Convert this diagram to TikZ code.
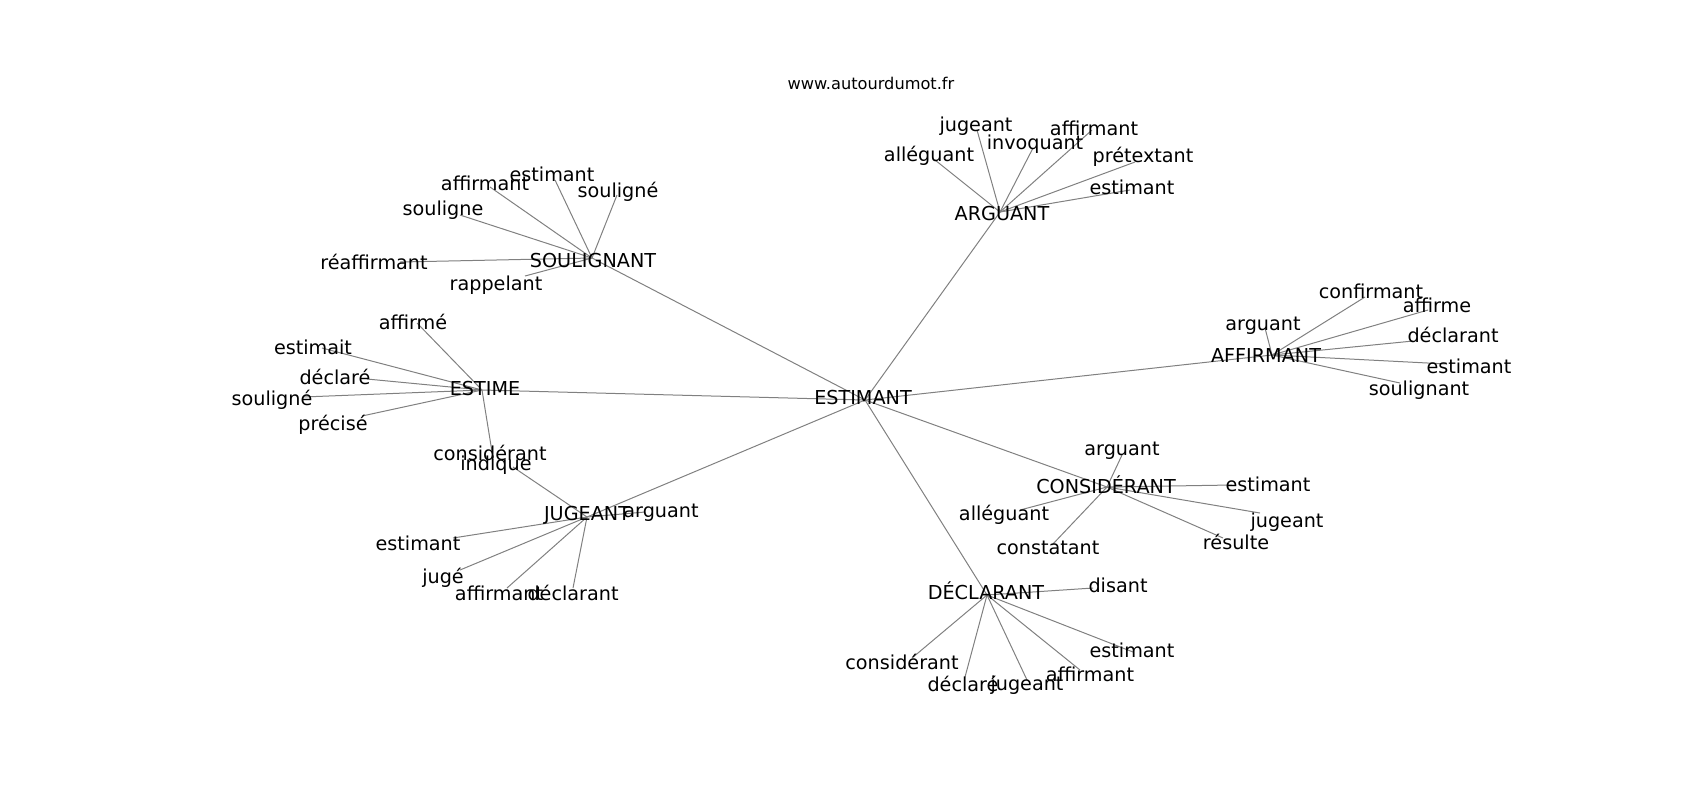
\documentclass[tikz,border=0pt]{standalone}
\usepackage{fontspec}
\setmainfont{DejaVu Sans}
\usepackage{xcolor}
\usepackage{tikz}
\definecolor{edgegrey}{HTML}{808080}

\begin{document}
\begin{tikzpicture}[x=0.5pt,y=-0.5pt,
      word/.style={inner sep=0pt, yshift=-1pt, text height=0.74em, text depth=0.22em, font=\fontsize{9.6pt}{11pt}\selectfont},
      site/.style={inner sep=0pt, font=\fontsize{8.1pt}{10pt}\selectfont},
      edge/.style={draw=edgegrey, line width=0.5pt}]

      \useasboundingbox (0,0) rectangle (1700,800);

      % positions of the graph nodes
      \coordinate (c) at (865,400);
      \coordinate (s) at (592,258);
      \coordinate (e) at (482,390);
      \coordinate (j) at (587,517);
      \coordinate (a) at (1000,212);
      \coordinate (f) at (1272,355);
      \coordinate (k) at (1107,487);
      \coordinate (d) at (987,595);

      \coordinate (s1) at (555,180);
      \coordinate (s2) at (490,187);
      \coordinate (s3) at (617,195);
      \coordinate (s4) at (460,215);
      \coordinate (s5) at (400,262);
      \coordinate (s6) at (525,276);

      \coordinate (e1) at (417,323);
      \coordinate (e2) at (322,348);
      \coordinate (e3) at (367,379);
      \coordinate (e4) at (303,397);
      \coordinate (e5) at (362,416);
      \coordinate (e6) at (493,458);

      \coordinate (j1) at (513,467);
      \coordinate (j2) at (645,512);
      \coordinate (j3) at (453,538);
      \coordinate (j4) at (460,570);
      \coordinate (j5) at (507,588);
      \coordinate (j6) at (573,588);

      \coordinate (a1) at (935,160);
      \coordinate (a2) at (977,130);
      \coordinate (a3) at (1033,148);
      \coordinate (a4) at (1092,130);
      \coordinate (a5) at (1135,162);
      \coordinate (a6) at (1130,190);

      \coordinate (f1) at (1265,328);
      \coordinate (f2) at (1365,297);
      \coordinate (f3) at (1428,310);
      \coordinate (f4) at (1413,341);
      \coordinate (f5) at (1447,364);
      \coordinate (f6) at (1400,383);

      \coordinate (k1) at (1122,455);
      \coordinate (k2) at (1232,485);
      \coordinate (k3) at (1260,513);
      \coordinate (k4) at (1223,538);
      \coordinate (k5) at (1020,510);
      \coordinate (k6) at (1052,545);

      \coordinate (d1) at (1093,588);
      \coordinate (d2) at (1133,652);
      \coordinate (d3) at (1080,670);
      \coordinate (d4) at (1027,680);
      \coordinate (d5) at (965,677);
      \coordinate (d6) at (912,658);

      \path[edge]
        (c) edge (s)
        (c) edge (e)
        (c) edge (j)
        (c) edge (a)
        (c) edge (f)
        (c) edge (k)
        (c) edge (d)

        (s) edge (s1) (s) edge (s2) (s) edge (s3)
        (s) edge (s4) (s) edge (s5) (s) edge (s6)

        (e) edge (e1) (e) edge (e2) (e) edge (e3)
        (e) edge (e4) (e) edge (e5) (e) edge (e6)

        (j) edge (j1) (j) edge (j2) (j) edge (j3)
        (j) edge (j4) (j) edge (j5) (j) edge (j6)

        (a) edge (a1) (a) edge (a2) (a) edge (a3)
        (a) edge (a4) (a) edge (a5) (a) edge (a6)

        (f) edge (f1) (f) edge (f2) (f) edge (f3)
        (f) edge (f4) (f) edge (f5) (f) edge (f6)

        (k) edge (k1) (k) edge (k2) (k) edge (k3)
        (k) edge (k4) (k) edge (k5) (k) edge (k6)

        (d) edge (d1) (d) edge (d2) (d) edge (d3)
        (d) edge (d4) (d) edge (d5) (d) edge (d6)
        ;

      % labels
      \node[site] (title) at (871,83) {www.autourdumot.fr};

      \node[word] (lc) at (863,397) {ESTIMANT};
      \node[word] (ls) at (593,260) {SOULIGNANT};
      \node[word] (le) at (485,388) {ESTIME};
      \node[word] (lj) at (587,513) {JUGEANT};
      \node[word] (la) at (1002,213) {ARGUANT};
      \node[word] (lf) at (1266,355) {AFFIRMANT};
      \node[word] (lk) at (1106,486) {CONSIDÉRANT};
      \node[word] (ld) at (986,592) {DÉCLARANT};

      \node[word] (ls1) at (552,174) {estimant};
      \node[word] (ls2) at (485,183) {affirmant};
      \node[word] (ls3) at (618,190) {souligné};
      \node[word] (ls4) at (443,208) {souligne};
      \node[word] (ls5) at (374,262) {réaffirmant};
      \node[word] (ls6) at (496,283) {rappelant};

      \node[word] (le1) at (413,322) {affirmé};
      \node[word] (le2) at (313,347) {estimait};
      \node[word] (le3) at (335,377) {déclaré};
      \node[word] (le4) at (272,398) {souligné};
      \node[word] (le5) at (333,423) {précisé};
      \node[word] (le6) at (490,453) {considérant};

      \node[word] (lj1) at (496,463) {indique};
      \node[word] (lj2) at (661,510) {arguant};
      \node[word] (lj3) at (418,543) {estimant};
      \node[word] (lj4) at (443,576) {jugé};
      \node[word] (lj5) at (499,593) {affirmant};
      \node[word] (lj6) at (573,593) {déclarant};

      \node[word] (la1) at (929,154) {alléguant};
      \node[word] (la2) at (976,124) {jugeant};
      \node[word] (la3) at (1035,142) {invoquant};
      \node[word] (la4) at (1094,128) {affirmant};
      \node[word] (la5) at (1143,155) {prétextant};
      \node[word] (la6) at (1132,187) {estimant};

      \node[word] (lf1) at (1263,323) {arguant};
      \node[word] (lf2) at (1371,291) {confirmant};
      \node[word] (lf3) at (1437,305) {affirme};
      \node[word] (lf4) at (1453,335) {déclarant};
      \node[word] (lf5) at (1469,366) {estimant};
      \node[word] (lf6) at (1419,388) {soulignant};

      \node[word] (lk1) at (1122,448) {arguant};
      \node[word] (lk2) at (1268,484) {estimant};
      \node[word] (lk3) at (1287,520) {jugeant};
      \node[word] (lk4) at (1236,542) {résulte};
      \node[word] (lk5) at (1004,513) {alléguant};
      \node[word] (lk6) at (1048,547) {constatant};

      \node[word] (ld1) at (1118,585) {disant};
      \node[word] (ld2) at (1132,650) {estimant};
      \node[word] (ld3) at (1090,674) {affirmant};
      \node[word] (ld4) at (1027,683) {jugeant};
      \node[word] (ld5) at (963,684) {déclaré};
      \node[word] (ld6) at (902,662) {considérant};

    \end{tikzpicture}
\end{document}
